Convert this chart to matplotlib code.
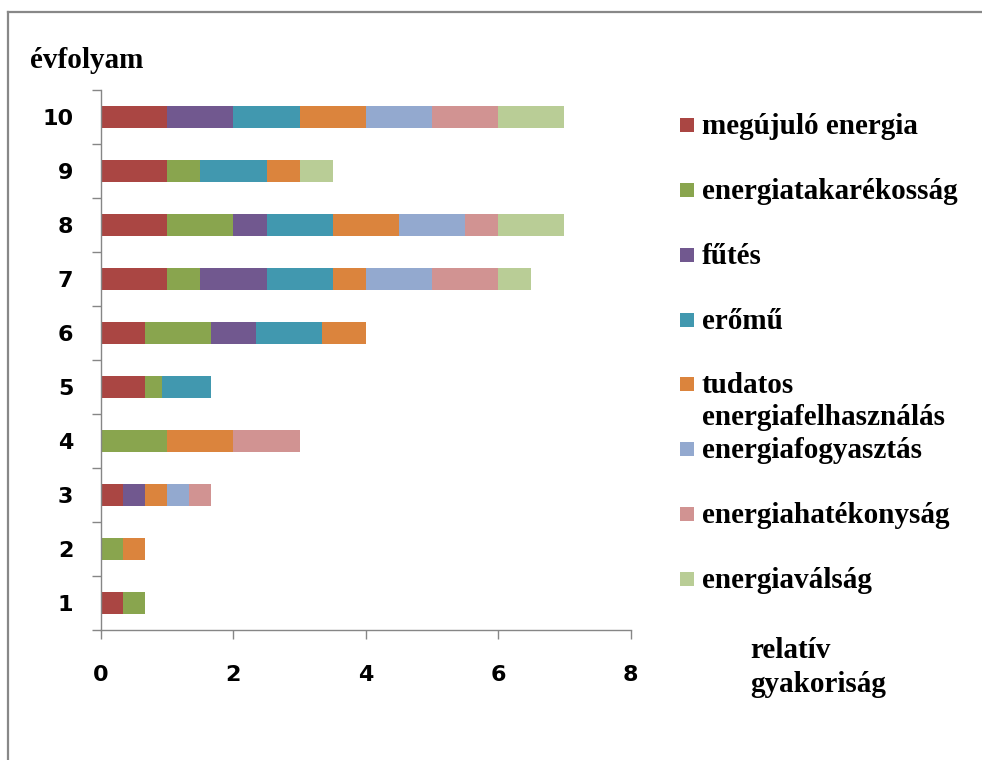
import matplotlib
matplotlib.use("Agg")
import matplotlib.pyplot as plt
from matplotlib.lines import Line2D
from matplotlib.patches import Rectangle
import numpy as np

W, H = 982, 760

years = [1, 2, 3, 4, 5, 6, 7, 8, 9, 10]
series_names = [
    "megújuló energia",
    "energiatakarékosság",
    "fűtés",
    "erőmű",
    "tudatos\nenergiafelhasználás",
    "energiafogyasztás",
    "energiahatékonyság",
    "energiaválság",
]
megujulo     = [0.333, 0,     0.333, 0, 0.667, 0.667, 1,   1,   1,   1]
takarekossag = [0.333, 0.333, 0,     1, 0.25,  1,     0.5, 1,   0.5, 0]
futes        = [0,     0,     0.333, 0, 0,     0.667, 1,   0.5, 0,   1]
eromu        = [0,     0,     0,     0, 0.75,  1,     1,   1,   1,   1]
tudatos      = [0,     0.333, 0.333, 1, 0,     0.667, 0.5, 1,   0.5, 1]
fogyasztas   = [0,     0,     0.333, 0, 0,     0,     1,   1,   0,   1]
hatekonysag  = [0,     0,     0.333, 1, 0,     0,     1,   0.5, 0,   1]
valsag       = [0,     0,     0,     0, 0,     0,     0.5, 1,   0.5, 1]
series = [megujulo, takarekossag, futes, eromu, tudatos, fogyasztas, hatekonysag, valsag]

colors = ["#AA4643", "#89A54E", "#71588F", "#4198AF",
          "#DB843D", "#93A9CF", "#D19392", "#B9CD96"]

serif = "Liberation Serif"
axis_gray = "#868686"
txt_size = 21


def fx(px):
    return px / W


def fy(py):
    return 1 - py / H


fig = plt.figure(figsize=(W / 100, H / 100), dpi=100)

# frame around the chart area
fig.add_artist(Line2D([fx(8), 1.0], [fy(12), fy(12)], color="#888888", lw=1.6))
fig.add_artist(Line2D([fx(8), fx(8)], [fy(12), 0.0], color="#888888", lw=1.6))

ax = fig.add_axes([fx(101), fy(630), fx(630.7) - fx(101), fy(90) - fy(630)])

left = np.zeros(len(years))
for name, vals, c in zip(series_names, series, colors):
    vals = np.array(vals, dtype=float)
    ax.barh(years, vals, left=left, height=0.4, color=c, linewidth=0)
    left += vals

ax.set_xlim(0, 8)
ax.set_ylim(0.5, 10.5)
ax.set_xticks([0, 2, 4, 6, 8])
ax.set_yticks(years)
ax.set_yticks(np.arange(0.5, 11, 1), minor=True)

for s in ["top", "right"]:
    ax.spines[s].set_visible(False)
for s in ["left", "bottom"]:
    ax.spines[s].set_color(axis_gray)
    ax.spines[s].set_linewidth(1.0)

ax.tick_params(axis="y", which="major", length=0, pad=20)
ax.tick_params(axis="y", which="minor", length=6.5, width=1.0, color=axis_gray)
ax.tick_params(axis="x", which="major", length=6.5, width=1.0, color=axis_gray, pad=19)
for lab in ax.get_xticklabels() + ax.get_yticklabels():
    lab.set_fontfamily("DejaVu Sans")
    lab.set_fontweight("bold")
    lab.set_fontsize(16)

# axis titles
fig.text(fx(30), fy(68), "évfolyam", family=serif, weight="bold", fontsize=txt_size,
         va="baseline", ha="left")
fig.text(fx(750), fy(658), "relatív", family=serif, weight="bold", fontsize=txt_size,
         va="baseline", ha="left")
fig.text(fx(750), fy(692), "gyakoriság", family=serif, weight="bold", fontsize=txt_size,
         va="baseline", ha="left")

# legend drawn by hand (Excel keeps fixed row spacing even for the two-line label)
baselines = [134, 199, 264, 329, 393, 458, 523, 588]
for name, c, b in zip(series_names, colors, baselines):
    fig.add_artist(Rectangle((fx(680), fy(b - 2)), fx(14), fy(0) - fy(14),
                             facecolor=c, edgecolor="none", transform=fig.transFigure))
    lines = name.split("\n")
    for i, ln in enumerate(lines):
        fig.text(fx(702), fy(b + i * 32), ln, family=serif, weight="bold",
                 fontsize=txt_size, va="baseline", ha="left")

fig.savefig("out.png", dpi=100, facecolor="white")
